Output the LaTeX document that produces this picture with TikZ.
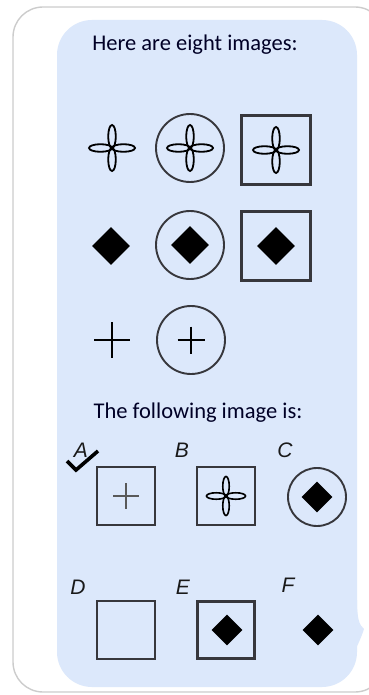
\documentclass[tikz,border=0pt]{standalone}
\usepackage{fontspec}
\setmainfont{Carlito}
\newfontfamily\labelfont{Liberation Sans}
\usepackage{xcolor}
\usepackage{tikz}
\usetikzlibrary{shapes.geometric}

\definecolor{bubbleblue}{RGB}{220,232,251}
\definecolor{framegray}{RGB}{55,55,60}

\tikzset{
    petals/.pic={
        \foreach \a in {0,90,180,270}
            \draw[line width=\petalwidth, rotate=\a] (11.5,0) ellipse [x radius=11.5, y radius=3.8];
    },
    cross/.pic={
        \draw[line width=\crosswidth] (-18,0) -- (18,0) (0,-18) -- (0,18);
    }
}
\newcommand{\petalwidth}{1.8pt}
\newcommand{\crosswidth}{2.4pt}

\begin{document}
\begin{tikzpicture}[
    x=1pt, y=-1pt,
    ring/.style={
        circle,
        draw=framegray,
        line width=1.9pt,
        minimum size=68pt,
        inner sep=0pt
    },
    frame/.style={
        rectangle,
        draw=framegray,
        line width=2.1pt,
        minimum size=69pt,
        inner sep=0pt
    },
    gem/.style={
        diamond,
        fill=black,
        minimum size=38pt,
        inner sep=0pt
    },
    heading/.style={
        font=\fontsize{22.5}{26}\selectfont,
        text=black!85!blue
    },
    letter/.style={
        font=\labelfont\itshape\fontsize{21}{23}\selectfont,
        text=black!90
    }
]
\useasboundingbox (0,0) rectangle (368,695);

\draw[black!20, line width=1.4pt, fill=white, rounded corners=30pt] (13,7) rectangle (385,692);
\fill[bubbleblue, rounded corners=35pt] (57,20) rectangle (357,687);
\fill[bubbleblue] (340,600) -- (357,600)
    .. controls (357,618) and (359,625) .. (364,629)
    .. controls (357,650) and (346,668) .. (330,682) -- cycle;

\node[heading] (title) at (195,45) {Here are eight images:};

\coordinate (flower) at (112,148);
\pic at (flower) {petals};
\node[ring] (ring1) at (190,148) {};
\pic at (ring1.center) {petals};
\node[frame] (frame1) at (276,150) {};
\pic at (frame1.center) {petals};

\node[gem] (dia) at (111,246) {};
\node[ring] (ring2) at (190,245) {};
\node[gem] at (ring2.center) {};
\node[frame] (frame2) at (276,246) {};
\node[gem] at (frame2.center) {};

\coordinate (plus) at (112,340);
\pic at (plus) {cross};
\node[ring] (ring3) at (191,340) {};
\pic[scale=0.75] at (ring3.center) {cross};

\node[heading] (question) at (198,413) {The following image is:};

\node[letter] (labA) at (81,450) {A};
\node[letter] (labB) at (182,450) {B};
\node[letter] (labC) at (285,450) {C};
\draw[line width=3.6pt, line join=miter] (67,461) -- (76,470) -- (98,451);

\node[frame, minimum size=58pt] (optA) at (126,496) {};
\renewcommand{\crosswidth}{1.7pt}
\pic[black!65, scale=0.72] at (optA.center) {cross};
\node[frame, minimum size=58pt] (optB) at (226,496) {};
\renewcommand{\petalwidth}{1.6pt}
\pic[scale=0.85] at (optB.center) {petals};
\node[ring, minimum size=58pt] (optC) at (317,497) {};
\node[gem, minimum size=31pt] at (optC.center) {};

\node[letter] (labD) at (78,587) {D};
\node[letter] (labE) at (183,587) {E};
\node[letter] (labF) at (288,585) {F};

\node[frame, minimum size=58pt] (optD) at (126,630) {};
\node[frame, minimum size=57pt] (optE) at (226,630) {};
\node[gem, minimum size=31pt] at (227,630) {};
\node[gem, minimum size=31pt] (optF) at (318,630) {};

\end{tikzpicture}
\end{document}
